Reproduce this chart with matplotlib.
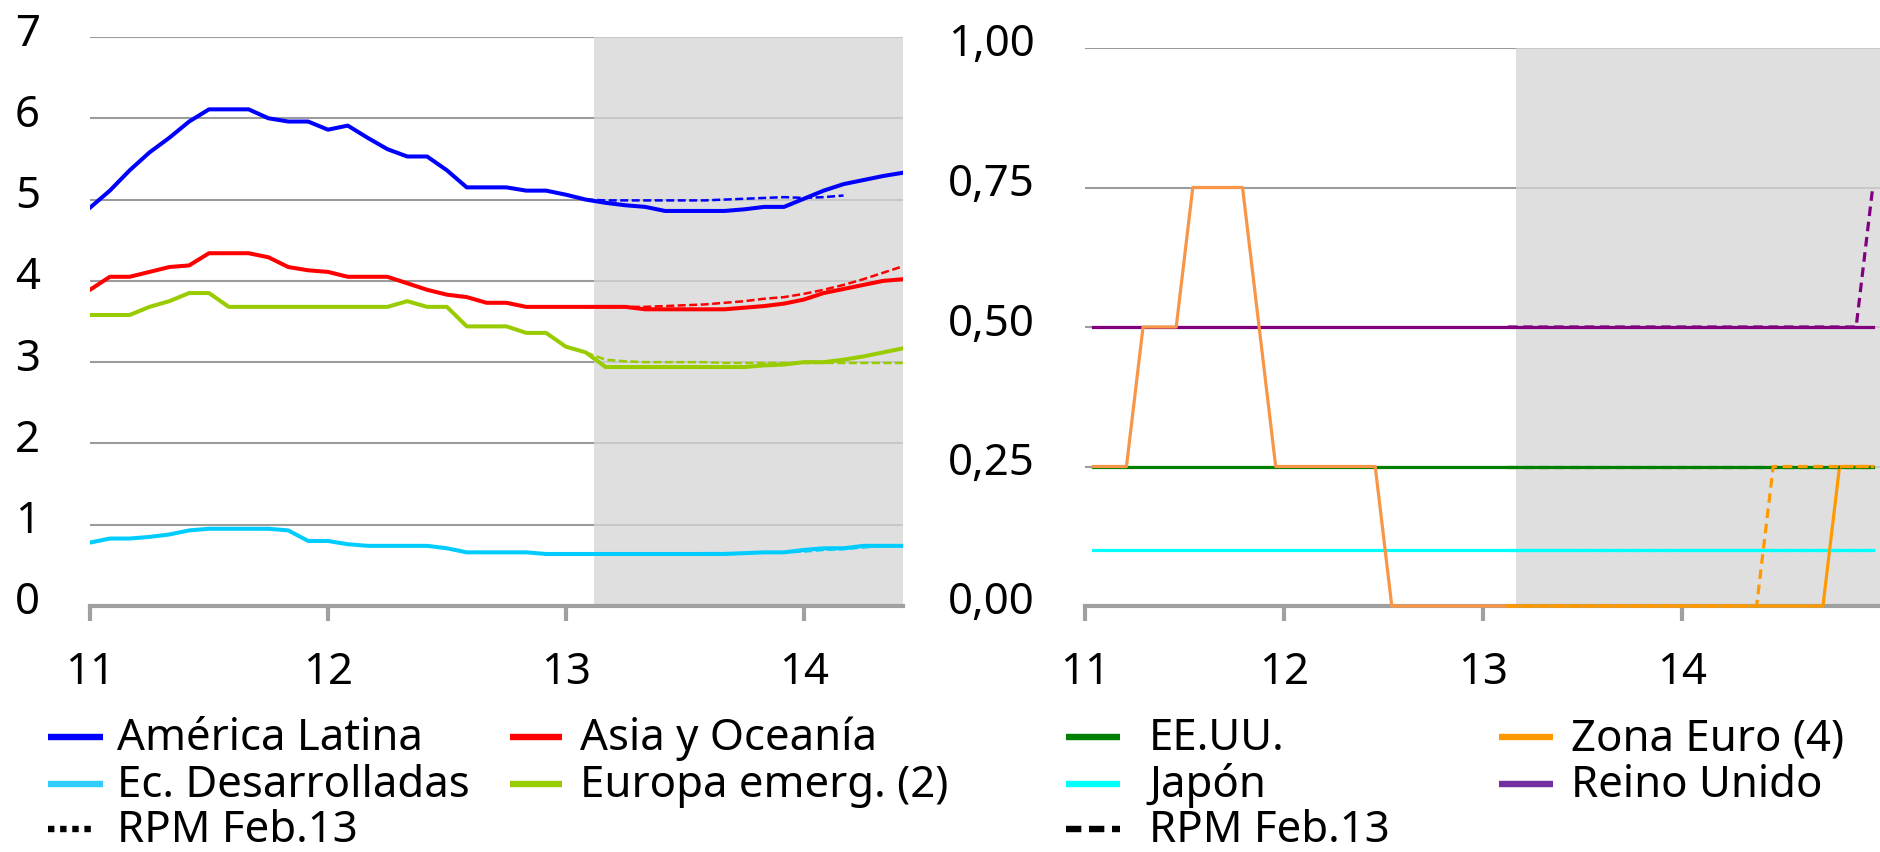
import matplotlib
matplotlib.use('Agg')
import matplotlib.pyplot as plt
from matplotlib.lines import Line2D
import matplotlib.transforms as mtransforms
import numpy as np

plt.rcParams['font.family'] = ['Noto Sans', 'DejaVu Sans']

FS = 31.5

# ---------------- data ----------------
year_labels = ['11', '12', '13', '14']
year_ticks = [0, 12, 24, 36]          # month index of January of each year

# Left panel (monthly, Jan-2011 .. Jun-2014)
america_latina = [4.90, 5.11, 5.36, 5.58, 5.76, 5.96, 6.11, 6.11, 6.11, 6.00,
                  5.96, 5.96, 5.86, 5.91, 5.76, 5.62, 5.53, 5.53, 5.36, 5.15,
                  5.15, 5.15, 5.11, 5.11, 5.06, 5.00, 4.96, 4.93, 4.91, 4.86,
                  4.86, 4.86, 4.86, 4.88, 4.91, 4.91, 5.01, 5.11, 5.19, 5.24,
                  5.29, 5.33]
asia_oceania = [3.89, 4.05, 4.05, 4.11, 4.17, 4.19, 4.34, 4.34, 4.34, 4.29,
                4.17, 4.13, 4.11, 4.05, 4.05, 4.05, 3.97, 3.89, 3.83, 3.80,
                3.73, 3.73, 3.68, 3.68, 3.68, 3.68, 3.68, 3.68, 3.65, 3.65,
                3.65, 3.65, 3.65, 3.67, 3.69, 3.72, 3.77, 3.85, 3.90, 3.95,
                4.00, 4.02]
europa_emerg = [3.58, 3.58, 3.58, 3.68, 3.75, 3.85, 3.85, 3.68, 3.68, 3.68,
                3.68, 3.68, 3.68, 3.68, 3.68, 3.68, 3.75, 3.68, 3.68, 3.44,
                3.44, 3.44, 3.36, 3.36, 3.19, 3.12, 2.94, 2.94, 2.94, 2.94,
                2.94, 2.94, 2.94, 2.94, 2.96, 2.97, 3.00, 3.00, 3.03, 3.07,
                3.12, 3.17]
ec_desarrolladas = [0.78, 0.83, 0.83, 0.85, 0.88, 0.93, 0.95, 0.95, 0.95, 0.95,
                    0.93, 0.80, 0.80, 0.76, 0.74, 0.74, 0.74, 0.74, 0.71, 0.66,
                    0.66, 0.66, 0.66, 0.64, 0.64, 0.64, 0.64, 0.64, 0.64, 0.64,
                    0.64, 0.64, 0.64, 0.65, 0.66, 0.66, 0.69, 0.71, 0.71, 0.74,
                    0.74, 0.74]

# RPM Feb.13 projections (start at month index 25)
rpm_start_left = 25
america_latina_rpm = [5.00, 4.99, 4.99, 4.99, 4.99, 4.99, 4.99, 5.00, 5.01, 5.02,
                      5.03, 5.02, 5.03, 5.05]
asia_oceania_rpm = [3.68, 3.68, 3.68, 3.68, 3.69, 3.70, 3.71, 3.73, 3.75, 3.78,
                    3.80, 3.84, 3.89, 3.95, 4.02, 4.10, 4.18]
europa_emerg_rpm = [3.12, 3.03, 3.01, 3.00, 3.00, 3.00, 3.00, 2.99, 2.99, 2.99,
                    2.99, 2.99, 2.99, 2.99, 2.99, 2.99, 2.99]
ec_desarrolladas_rpm = [0.64, 0.64, 0.64, 0.64, 0.64, 0.64, 0.65, 0.65, 0.65, 0.66,
                        0.66, 0.67, 0.69, 0.70, 0.72, 0.74, 0.74]

# Right panel (monthly, Jan-2011 .. Dec-2014)
eeuu = [0.25, 0.25, 0.25, 0.25, 0.25, 0.25, 0.25, 0.25, 0.25, 0.25,
        0.25, 0.25, 0.25, 0.25, 0.25, 0.25, 0.25, 0.25, 0.25, 0.25,
        0.25, 0.25, 0.25, 0.25, 0.25, 0.25, 0.25, 0.25, 0.25, 0.25,
        0.25, 0.25, 0.25, 0.25, 0.25, 0.25, 0.25, 0.25, 0.25, 0.25,
        0.25, 0.25, 0.25, 0.25, 0.25, 0.25, 0.25, 0.25]
japon = [0.10, 0.10, 0.10, 0.10, 0.10, 0.10, 0.10, 0.10, 0.10, 0.10,
         0.10, 0.10, 0.10, 0.10, 0.10, 0.10, 0.10, 0.10, 0.10, 0.10,
         0.10, 0.10, 0.10, 0.10, 0.10, 0.10, 0.10, 0.10, 0.10, 0.10,
         0.10, 0.10, 0.10, 0.10, 0.10, 0.10, 0.10, 0.10, 0.10, 0.10,
         0.10, 0.10, 0.10, 0.10, 0.10, 0.10, 0.10, 0.10]
zona_euro = [0.25, 0.25, 0.25, 0.50, 0.50, 0.50, 0.75, 0.75, 0.75, 0.75,
             0.50, 0.25, 0.25, 0.25, 0.25, 0.25, 0.25, 0.25, 0.00, 0.00,
             0.00, 0.00, 0.00, 0.00, 0.00, 0.00, 0.00, 0.00, 0.00, 0.00,
             0.00, 0.00, 0.00, 0.00, 0.00, 0.00, 0.00, 0.00, 0.00, 0.00,
             0.00, 0.00, 0.00, 0.00, 0.00, 0.25, 0.25, 0.25]
reino_unido = [0.50, 0.50, 0.50, 0.50, 0.50, 0.50, 0.50, 0.50, 0.50, 0.50,
               0.50, 0.50, 0.50, 0.50, 0.50, 0.50, 0.50, 0.50, 0.50, 0.50,
               0.50, 0.50, 0.50, 0.50, 0.50, 0.50, 0.50, 0.50, 0.50, 0.50,
               0.50, 0.50, 0.50, 0.50, 0.50, 0.50, 0.50, 0.50, 0.50, 0.50,
               0.50, 0.50, 0.50, 0.50, 0.50, 0.50, 0.50, 0.50]

rpm_start_right = 25
eeuu_rpm = [0.25, 0.25, 0.25, 0.25, 0.25, 0.25, 0.25, 0.25, 0.25, 0.25,
            0.25, 0.25, 0.25, 0.25, 0.25, 0.25, 0.25, 0.25, 0.25, 0.25,
            0.25, 0.25, 0.25]
japon_rpm = [0.10, 0.10, 0.10, 0.10, 0.10, 0.10, 0.10, 0.10, 0.10, 0.10,
             0.10, 0.10, 0.10, 0.10, 0.10, 0.10, 0.10, 0.10, 0.10, 0.10,
             0.10, 0.10, 0.10]
zona_euro_rpm = [0.00, 0.00, 0.00, 0.00, 0.00, 0.00, 0.00, 0.00, 0.00, 0.00,
                 0.00, 0.00, 0.00, 0.00, 0.00, 0.00, 0.25, 0.25, 0.25, 0.25,
                 0.25, 0.25, 0.25]
reino_unido_rpm = [0.50, 0.50, 0.50, 0.50, 0.50, 0.50, 0.50, 0.50, 0.50, 0.50,
                   0.50, 0.50, 0.50, 0.50, 0.50, 0.50, 0.50, 0.50, 0.50, 0.50,
                   0.50, 0.50, 0.75]

# forecast shading (month index)
shade_left = (25.4, 41)
shade_right = (26, 48)

left_yticks = [0, 1, 2, 3, 4, 5, 6, 7]
right_yticks = [0.0, 0.25, 0.5, 0.75, 1.0]

# ---------------- styles ----------------
C_BLUE = '#0000FF'
C_RED = '#FF0000'
C_LIME = '#99CC00'
C_SKY = '#00CCFF'
C_GREEN = '#008000'
C_CYAN = '#00FFFF'
C_ORANGE = '#FF9900'
C_ORANGE_H = '#F79646'
C_PURPLE = '#800080'
GRID = '#9C9C9C'

W, H = 1881, 852
DPI = 100
fig = plt.figure(figsize=(W / DPI, H / DPI), dpi=DPI)


def fx(px):
    return px / W


def fy(py):
    return 1 - py / H


axL = fig.add_axes([fx(90), fy(606), fx(903) - fx(90), fy(37) - fy(606)])
axR = fig.add_axes([fx(1085), fy(606), fx(1881) - fx(1085), fy(48) - fy(606)])

LW = 2.9
LW_D = 1.8


def style(ax, xlim, ylim, yticks, ylabels, shade):
    ax.set_xlim(*xlim)
    ax.set_ylim(*ylim)
    for s in ['top', 'right', 'left']:
        ax.spines[s].set_visible(False)
    ax.spines['bottom'].set_color('#A0A0A0')
    ax.spines['bottom'].set_linewidth(3.0)
    ax.set_xticks(year_ticks)
    ax.set_xticklabels(year_labels)
    ax.set_yticks(yticks)
    ax.set_yticklabels(ylabels)
    ax.tick_params(axis='x', length=10.8, width=3.0, color='#A0A0A0',
                   direction='out', pad=21.5, labelsize=FS)
    ax.tick_params(axis='y', length=0, pad=36, labelsize=FS)
    ax.yaxis.grid(True, color=GRID, linewidth=1.5)
    ax.xaxis.grid(False)
    ax.set_axisbelow(True)
    ax.axvspan(shade[0], shade[1], color='#D6D6D6', alpha=0.775, lw=0, zorder=1)
    off = mtransforms.ScaledTranslation(0, 8 / DPI, fig.dpi_scale_trans)
    for lab in ax.get_yticklabels():
        lab.set_transform(lab.get_transform() + off)


style(axL, (0, 41), (0, 7), left_yticks, [str(v) for v in left_yticks], shade_left)
style(axR, (0, 48), (0, 1), right_yticks,
      [f'{v:.2f}'.replace('.', ',') for v in right_yticks], shade_right)

# ---------------- left panel ----------------
mL = np.arange(len(america_latina))
dash_l = dict(linestyle=(0, (3.2, 1.4)), linewidth=LW_D, zorder=5)
axL.plot(mL, ec_desarrolladas, color=C_SKY, lw=LW, zorder=3, solid_joinstyle='round')
axL.plot(mL, europa_emerg, color=C_LIME, lw=LW, zorder=3, solid_joinstyle='round')
axL.plot(mL, asia_oceania, color=C_RED, lw=LW, zorder=3, solid_joinstyle='round')
axL.plot(mL, america_latina, color=C_BLUE, lw=LW, zorder=3, solid_joinstyle='round')


def rpm_x(start, arr):
    return np.arange(start, start + len(arr))


axL.plot(rpm_x(rpm_start_left, ec_desarrolladas_rpm), ec_desarrolladas_rpm, color=C_SKY, **dash_l)
axL.plot(rpm_x(rpm_start_left, europa_emerg_rpm), europa_emerg_rpm, color=C_LIME, **dash_l)
axL.plot(rpm_x(rpm_start_left, asia_oceania_rpm), asia_oceania_rpm, color=C_RED, **dash_l)
axL.plot(rpm_x(rpm_start_left, america_latina_rpm), america_latina_rpm, color=C_BLUE, **dash_l)

# ---------------- right panel ----------------
mR = np.arange(len(eeuu)) + 0.5
LWR = 2.3
axR.plot(mR, japon, color=C_CYAN, lw=LWR, zorder=3, clip_on=False)
axR.plot(mR, eeuu, color=C_GREEN, lw=LWR, zorder=3, clip_on=False)
axR.plot(mR, reino_unido, color=C_PURPLE, lw=LWR, zorder=3, clip_on=False)
split = rpm_start_right
axR.plot(mR[:split + 1], zona_euro[:split + 1], color=C_ORANGE_H, lw=LWR, zorder=4, clip_on=False)
axR.plot(mR[split:], zona_euro[split:], color=C_ORANGE, lw=LWR, zorder=4, clip_on=False)

dash_r = dict(linestyle=(0, (3.0, 1.8)), linewidth=LWR, zorder=5, clip_on=False)
xr = rpm_x(rpm_start_right, eeuu_rpm) + 0.5
axR.plot(xr, japon_rpm, color=C_CYAN, **dash_r)
axR.plot(xr, eeuu_rpm, color=C_GREEN, **dash_r)
axR.plot(xr, zona_euro_rpm, color=C_ORANGE, **dash_r)
axR.plot(xr, reino_unido_rpm, color=C_PURPLE, **dash_r)

# ---------------- legend ----------------
legend_entries = [
    # (x0, x1, text_x, row, label, color, style)
    (48, 103, 117, 0, 'América Latina', C_BLUE, '-'),
    (510, 562, 580, 0, 'Asia y Oceanía', C_RED, '-'),
    (48, 103, 117, 1, 'Ec. Desarrolladas', '#33CCFF', '-'),
    (510, 562, 580, 1, 'Europa emerg. (2)', C_LIME, '-'),
    (48, 96, 117, 2, 'RPM Feb.13', 'black', (0, (1.0, 0.9))),
    (1066, 1120, 1149, 0, 'EE.UU.', C_GREEN, '-'),
    (1499, 1553, 1571, 0, 'Zona Euro (4)', C_ORANGE, '-'),
    (1066, 1120, 1149, 1, 'Japón', C_CYAN, '-'),
    (1499, 1553, 1571, 1, 'Reino Unido', '#7030A0', '-'),
    (1066, 1120, 1149, 2, 'RPM Feb.13', 'black', (0, (2.4, 1.2))),
]
row_line_y = [737, 784, 829]
row_base_y = [750, 797, 842]
for x0, x1, tx, r, lab, col, ls in legend_entries:
    fig.add_artist(Line2D([fx(x0), fx(x1)], [fy(row_line_y[r])] * 2,
                          transform=fig.transFigure, color=col, lw=4.6,
                          linestyle=ls, solid_capstyle='butt', dash_capstyle='butt'))
    fig.text(fx(tx), fy(row_base_y[r]), lab, fontsize=FS, va='baseline', ha='left',
             color='black')

fig.savefig('out.png', dpi=DPI)
